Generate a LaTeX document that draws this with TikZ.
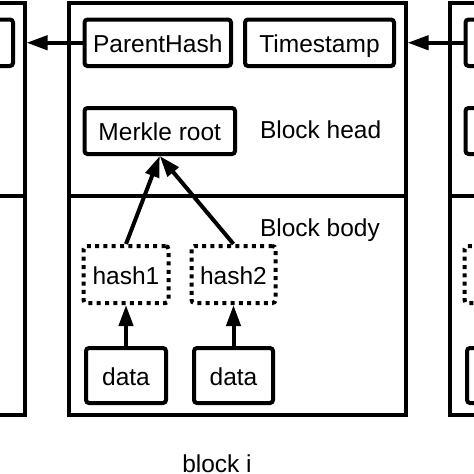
\documentclass[tikz,border=0pt]{standalone}
\usepackage{fontspec}
\setmainfont{Liberation Sans}
\usetikzlibrary{arrows.meta}
\begin{document}
\begin{tikzpicture}[x=1pt,y=-1pt,line width=4pt,
  box/.style={draw,rounded corners=3pt,inner sep=0pt,text height=19pt,text depth=0pt,font=\fontsize{24.5}{29}\selectfont},
  hashbox/.style={box,dash pattern=on 4pt off 4.3pt},
  block/.style={draw,inner sep=0pt,minimum width=337pt,minimum height=412.5pt},
  lbl/.style={inner sep=0pt,font=\fontsize{24.5}{29}\selectfont},
  arr/.style={-{Triangle[length=21pt,width=14pt]}}]
\useasboundingbox (0,0) rectangle (474,474);
\clip (0,0) rectangle (474,474);
\node[block] (blkL) at (-144,208.75) {};
\node[block] (blk) at (237,208.75) {};
\node[block] (blkR) at (618,208.75) {};
\draw (blkL.west |- 0,196) -- (blkL.east |- 0,196);
\draw (blk.west |- 0,196) -- (blk.east |- 0,196);
\draw (blkR.west |- 0,196) -- (blkR.east |- 0,196);
\node[box,minimum width=149pt,minimum height=46.5pt] (tsL) at (-61.5,42.75) {};
\node[box,minimum width=146.5pt,minimum height=46.5pt] (ph) at (157.75,42.75) {ParentHash};
\node[box,minimum width=149pt,minimum height=46.5pt] (ts) at (319.5,42.75) {Timestamp};
\node[box,minimum width=150.5pt,minimum height=46pt] (mr) at (159.75,131) {Merkle root};
\node[hashbox,minimum width=85pt,minimum height=57pt] (h1) at (126,274.5) {hash1};
\node[hashbox,minimum width=84pt,minimum height=57pt] (h2) at (233.5,274.5) {hash2};
\node[box,minimum width=80pt,minimum height=55pt] (d1) at (126,375.5) {data};
\node[box,minimum width=79pt,minimum height=55pt] (d2) at (233.5,375.5) {data};
\node[box,minimum width=146.5pt,minimum height=46.5pt] (phR) at (538.75,42.75) {};
\node[box,minimum width=150.5pt,minimum height=46pt] (mrR) at (540.75,131) {};
\node[hashbox,minimum width=85pt,minimum height=57pt] (h1R) at (507,274.5) {};
\node[box,minimum width=80pt,minimum height=55pt] (d1R) at (507,375.5) {};
\node[lbl,anchor=base west] (head) at (258,138) {Block head};
\node[lbl,anchor=base west] (body) at (258,236) {Block body};
\node[lbl,anchor=base] (name) at (217,472) {block i};
\draw[arr] (ph.west) -- (ph.west -| blkL.east);
\draw[arr] (phR.west) -- (phR.west -| blk.east);
\draw[arr] (h1.north) -- (mr.south);
\draw[arr] (h2.north) -- (mr.south);
\draw[arr] (d1) -- (h1);
\draw[arr] (d2) -- (h2);
\end{tikzpicture}
\end{document}
